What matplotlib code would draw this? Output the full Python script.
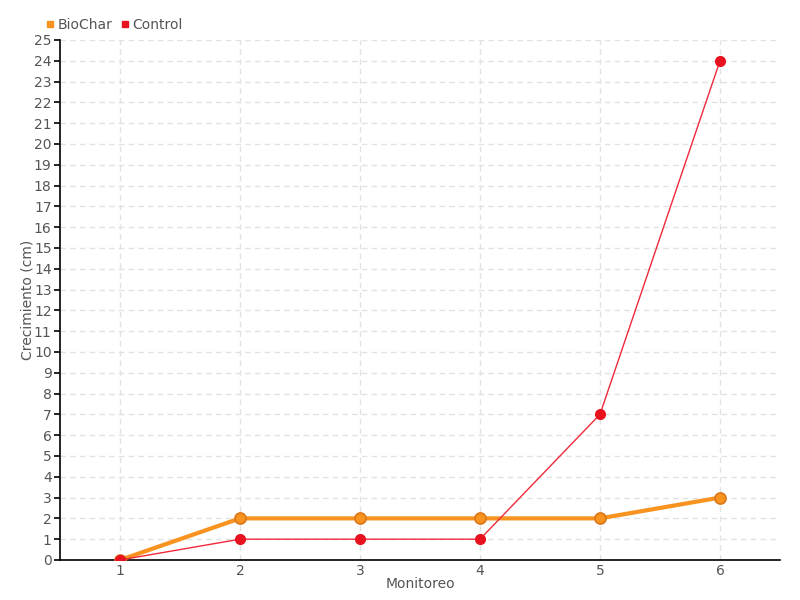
import matplotlib
matplotlib.use('Agg')
import matplotlib.pyplot as plt

plt.rcParams['font.family'] = ['Liberation Sans Narrow', 'DejaVu Sans']

monitoreo = [1, 2, 3, 4, 5, 6]
biochar = [0, 2, 2, 2, 2, 3]
control = [0, 1, 1, 1, 7, 24]

fig = plt.figure(figsize=(8, 6), dpi=100)
ax = fig.add_axes([0.075, 0.0667, 0.9, 0.8667])

ax.plot(monitoreo, biochar, color='#F7931E', lw=3, marker='o', ms=8,
        mfc='#F7931E', mec='#D9771A', mew=1.2, label='BioChar', zorder=3)
ax.plot(monitoreo, control, color='#F0293A', lw=1, marker='o', ms=7,
        mfc='#E8121F', mec='#E8121F', label='Control', zorder=4)

ax.set_xlim(0.5, 6.5)
ax.set_ylim(0, 25)
ax.set_xticks(monitoreo)
ax.set_yticks(range(0, 26))
ax.grid(True, color='#E2E2E2', ls=(0, (4, 3)), lw=1)
ax.set_axisbelow(True)
for s in ['top', 'right']:
    ax.spines[s].set_visible(False)
ax.spines['left'].set_linewidth(1.2)
ax.spines['bottom'].set_linewidth(1.2)
ax.tick_params(axis='y', length=4, width=1.2, colors='black', labelcolor='#555555', labelsize=10, pad=2)
ax.tick_params(axis='x', length=0, labelcolor='#555555', labelsize=10, pad=3)

ax.set_xlabel('Monitoreo', color='#555555', fontsize=10, labelpad=-1)
ax.set_ylabel('Crecimiento (cm)', color='#555555', fontsize=10)
ax.yaxis.set_label_coords(-0.036, 0.5)

ax.legend(loc='lower left', bbox_to_anchor=(-0.03, 1.0), ncol=2, frameon=False,
          handlelength=0.5, handletextpad=0.3, columnspacing=0.6, fontsize=10,
          labelcolor='#555555', borderaxespad=0.2,
          handles=[plt.Line2D([], [], ls='', marker='s', ms=5, color='#F7931E'),
                   plt.Line2D([], [], ls='', marker='s', ms=5, color='#E8121F')],
          labels=['BioChar', 'Control'])

fig.savefig('out.png', dpi=100)
